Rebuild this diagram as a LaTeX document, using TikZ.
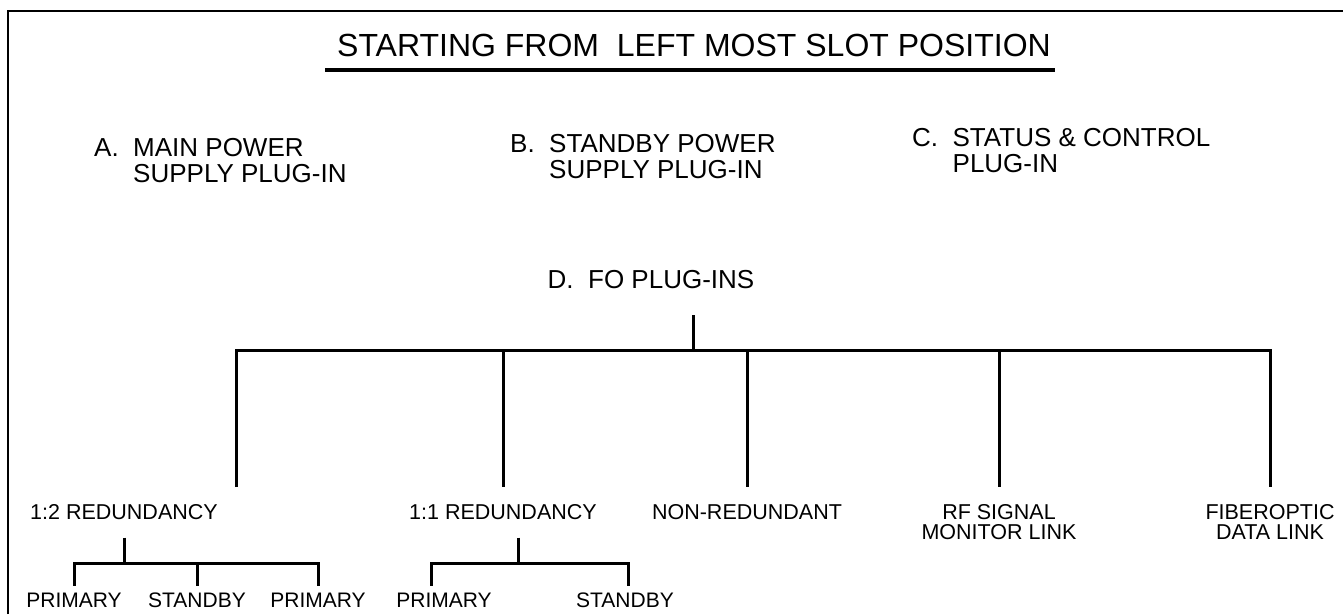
\documentclass[tikz,border=0pt]{standalone}
\usepackage{fontspec}
\setmainfont{Liberation Sans}

\tikzset{
  wire/.style={line width=3pt},
  hdr/.style={font=\fontsize{32}{38}\selectfont, inner sep=0pt},
  item/.style={font=\fontsize{26}{26}\selectfont, inner sep=0pt, align=left},
  branch/.style={font=\fontsize{21.5}{19.5}\selectfont, inner xsep=0pt, inner ysep=17.5pt, align=center},
  leaf/.style={font=\fontsize{21}{21}\selectfont, inner xsep=0pt, inner ysep=6.5pt}
}

\begin{document}
\begin{tikzpicture}[x=1pt,y=-1pt]
  \useasboundingbox (0,0) rectangle (1343,614);
  % Frame (left and top only)
  \draw[line width=2.3pt] (8,614) -- (8,11) -- (1343,11);
  % Heading with underline
  \node[hdr, anchor=base west] (title) at (337,56) {STARTING FROM\ \ LEFT MOST SLOT POSITION};
  \draw[line width=4pt] ([xshift=-12pt,yshift=-14pt]title.base west) -- ([xshift=4pt,yshift=-14pt]title.base east);
  % Plug-ins A, B, C
  \node[item, anchor=north west] (mainps) at (94,138) {A.\ \ MAIN POWER\\\hphantom{A.\ \ }SUPPLY PLUG-IN};
  \node[item, anchor=north west] (stbyps) at (510,134) {B.\ \ STANDBY POWER\\\hphantom{B.\ \ }SUPPLY PLUG-IN};
  \node[item, anchor=north west] (statctl) at (912,128) {C.\ \ STATUS \& CONTROL\\\hphantom{C.\ \ }PLUG-IN};
  % FO plug-ins tree
  \node[item, anchor=base] (fo) at (651,288) {D.\ \ FO PLUG-INS};
  \coordinate (stem) at (693,315);
  \coordinate (root) at (693,350);
  \node[branch, anchor=north] (red12) at (124,487) {1:2 REDUNDANCY};
  \node[branch, anchor=north] (red11) at (503,487) {1:1 REDUNDANCY};
  \node[branch, anchor=north] (nonred) at (747,487) {NON-REDUNDANT};
  \node[branch, anchor=north] (rfmon) at (999,487) {RF SIGNAL\\MONITOR LINK};
  \node[branch, anchor=north] (fodata) at (1270,487) {FIBEROPTIC\\DATA LINK};
  \draw[wire] (stem) -- (root);
  \draw[wire] (236,350 |- red12.north) -- (236,350) -- (fodata.north |- root) -- (fodata.north);
  \foreach \n in {red11,nonred,rfmon}
    \draw[wire] (\n.north |- root) -- (\n.north);
  % 1:2 redundancy leaves
  \coordinate (b12) at (124,563);
  \node[leaf, anchor=base] (p1) at (74,607) {PRIMARY};
  \node[leaf, anchor=base] (s1) at (197,607) {STANDBY};
  \node[leaf, anchor=base] (p2) at (318,607) {PRIMARY};
  \draw[wire] (red12.south) -- (b12);
  \draw[wire] (p1.north) -- (p1.north |- b12) -- (p2.north |- b12) -- (p2.north);
  \draw[wire] (s1.north |- b12) -- (s1.north);
  % 1:1 redundancy leaves
  \coordinate (b11) at (518,563);
  \node[leaf, anchor=base] (p3) at (444,607) {PRIMARY};
  \node[leaf, anchor=base] (s2) at (625,607) {STANDBY};
  \draw[wire] (red11.south -| b11) -- (b11);
  \draw[wire] ([xshift=-13pt]p3.north) -- ([xshift=-13pt]p3.north |- b11) -- ([xshift=3pt]s2.north |- b11) -- ([xshift=3pt]s2.north);
\end{tikzpicture}
\end{document}
